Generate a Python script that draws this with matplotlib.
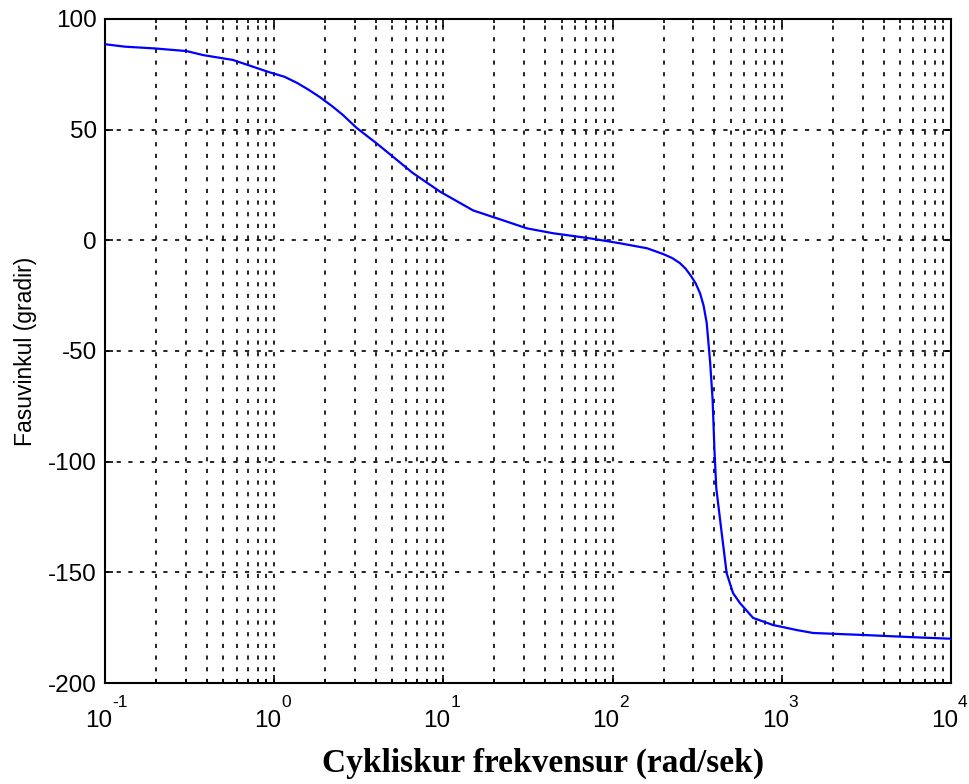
# Diagrama de Bode (fase) - recriação do gráfico de referência
import numpy as np
import matplotlib
matplotlib.use('Agg')
import matplotlib.pyplot as plt
import matplotlib.transforms as mtransforms
from matplotlib.ticker import LogLocator, FixedLocator, NullFormatter

# valores (frequência em rad/s, fase em graus)
frekvensur = [0.1, 0.131, 0.197, 0.304, 0.38, 0.57, 0.70, 0.94, 1.15, 1.36, 1.6, 1.87,
              2.2, 2.55, 3.08, 4.0, 5.03, 6.6, 9.55, 15.0, 21.6, 31.2, 44.5, 73.5,
              110, 160, 199, 225, 250, 270, 290, 310, 329, 345, 360, 377, 390, 400, 410, 441,
              472, 515, 566, 677, 888, 1230, 1529, 3017, 6828, 10000]
fasa = [88.6, 87.5, 86.7, 85.5, 83.7, 81.5, 79.2, 75.9, 73.9, 71.2, 68.0, 64.6,
        60.6, 56.6, 50.7, 44.0, 37.8, 30.4, 22.0, 13.5, 9.5, 5.4, 3.2, 0.9,
        -1.3, -3.6, -6.2, -8.0, -10.3, -12.8, -16.0, -19.5, -24.0, -29.5, -37.4, -55.0,
        -72.0, -95.0, -112.0, -132.0,
        -150.3, -159.4, -163.9, -170.6, -173.8, -176.1, -177.4, -178.3, -179.5, -180.0]

x_ticks = [1e-1, 1e0, 1e1, 1e2, 1e3, 1e4]
x_exponents = ['-1', '0', '1', '2', '3', '4']
y_ticks = [-200, -150, -100, -50, 0, 50, 100]

plt.rcParams['font.family'] = ['Liberation Sans', 'DejaVu Sans']
plt.rcParams['axes.unicode_minus'] = False

fig = plt.figure(figsize=(9.7, 7.84), dpi=100)
ax = fig.add_axes([105 / 970, 1 - 683 / 784, (951 - 105) / 970, (683 - 19) / 784])

ax.semilogx(frekvensur, fasa, color='#0000ff', linewidth=1.6, zorder=3)

ax.set_xlim(1e-1, 1e4)
ax.set_ylim(-200, 100)

ax.xaxis.set_major_locator(FixedLocator(x_ticks))
ax.xaxis.set_major_formatter(NullFormatter())
ax.xaxis.set_minor_locator(LogLocator(base=10, subs=np.arange(2, 10), numticks=20))
ax.xaxis.set_minor_formatter(NullFormatter())
ax.set_yticks(y_ticks)

# rótulos "10" com expoente bem acima, como no estilo antigo do MATLAB
trans = mtransforms.blended_transform_factory(ax.transData, ax.transAxes)
for xt, ex in zip(x_ticks, x_exponents):
    base = trans + mtransforms.ScaledTranslation(7 / 100, -44 / 100, fig.dpi_scale_trans)
    ax.text(xt, 0, '10', transform=base, ha='right', va='baseline', fontsize=17.5, clip_on=False)
    sup = trans + mtransforms.ScaledTranslation(7 / 100, -24 / 100, fig.dpi_scale_trans)
    ax.text(xt, 0, ex, transform=sup, ha='left', va='baseline', fontsize=12.5, clip_on=False)

# grade pontilhada nas décadas e sub-décadas (x) e nos ticks maiores (y)
estilo = dict(color='black', linewidth=1.2, linestyle=(0, (2.5, 4.5)))
ax.grid(True, which='major', axis='both', **estilo)
ax.grid(True, which='minor', axis='x', **estilo)
ax.set_axisbelow(True)

ax.tick_params(which='both', direction='in', top=True, right=True, labelsize=17.5, width=1.2)
ax.tick_params(which='major', length=6)
ax.tick_params(which='minor', length=3)
ax.tick_params(axis='y', pad=6)
for s in ax.spines.values():
    s.set_linewidth(1.5)

ax.set_ylabel('Fasuvinkul (gradir)', fontsize=16.5, labelpad=8)
fig.text(543 / 970, 1 - 763 / 784, 'Cykliskur frekvensur (rad/sek)', ha='center', va='center',
         fontsize=24, fontweight='bold', family=['Liberation Serif', 'DejaVu Serif'])

fig.savefig('out.png', dpi=100, facecolor='white')
plt.close(fig)
